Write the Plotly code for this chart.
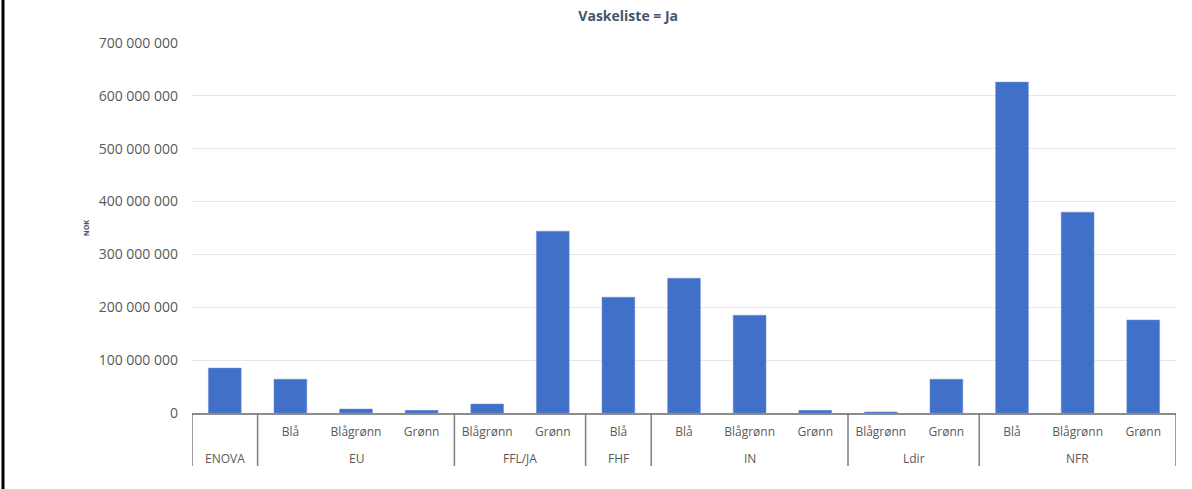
import plotly.graph_objects as go

groups = ["ENOVA", "EU", "EU", "EU", "FFL/JA", "FFL/JA", "FHF", "IN", "IN", "IN",
          "Ldir", "Ldir", "NFR", "NFR", "NFR"]
subcats = ["", "Blå", "Blågrønn", "Grønn", "Blågrønn", "Grønn", "Blå", "Blå", "Blågrønn", "Grønn",
           "Blågrønn", "Grønn", "Blå", "Blågrønn", "Grønn"]
values = [85e6, 64e6, 7.5e6, 5e6, 17e6, 344e6, 219e6, 255e6, 185e6, 5e6,
          2e6, 64e6, 626e6, 380e6, 176e6]
tickvals_y = [0, 100e6, 200e6, 300e6, 400e6, 500e6, 600e6, 700e6]

font_fam = "Open Sans, Noto Sans, sans-serif"
idx = list(range(len(values)))

W, H = 1192, 489
ML, MR, MT, MB = 192, 16, 43, 76
plot_w = W - ML - MR
plot_h = float(H - MT - MB)

# group spans derived from the data
spans = []
for i, g in enumerate(groups):
    if spans and spans[-1][0] == g:
        spans[-1][2] = i
    else:
        spans.append([g, i, i])

annotations = []
shapes = []
for g, a, b in spans:
    annotations.append(dict(text=g, x=(a + b) / 2, xref="x", y=-45 / plot_h, yref="paper",
                            showarrow=False, yanchor="middle", xanchor="center",
                            font=dict(family=font_fam, size=12, color="#595959")))
bounds = [s[1] - 0.5 for s in spans] + [spans[-1][2] + 0.5]
for bx in bounds:
    shapes.append(dict(type="line", xref="x", yref="paper", x0=bx, x1=bx, y0=0, y1=-53 / plot_h,
                       line=dict(color="#7F7F7F", width=1.5)))

# left frame line of the picture
shapes.append(dict(type="line", xref="paper", yref="paper",
                   x0=(3 - ML) / plot_w, x1=(3 - ML) / plot_w, y0=-MB / plot_h, y1=1 + MT / plot_h,
                   line=dict(color="black", width=3)))

fig = go.Figure(go.Bar(
    x=idx,
    y=values,
    marker=dict(color="#4170C8", line=dict(color="#6F8FD8", width=0.5)),
))

fig.update_layout(
    width=W, height=H,
    margin=dict(l=ML, r=MR, t=MT, b=MB),
    paper_bgcolor="white", plot_bgcolor="white",
    separators=", ",
    bargap=0.5,
    showlegend=False,
    title=dict(text="<b>Vaskeliste = Ja</b>", x=0.527, xref="container", xanchor="center",
               y=1 - 16 / H, yref="container", yanchor="middle",
               font=dict(family=font_fam, size=14, color="#44546A")),
    font=dict(family=font_fam, size=13, color="#595959"),
    xaxis=dict(
        range=[-0.5, len(values) - 0.5],
        tickvals=idx, ticktext=subcats,
        showline=True, linecolor="#8C8C8C", linewidth=1.5,
        ticks="", showgrid=False, zeroline=False, ticklabelstandoff=7,
        tickfont=dict(family=font_fam, size=12, color="#595959"),
    ),
    yaxis=dict(
        range=[0, 700e6], tickvals=tickvals_y, tickformat=",d",
        showgrid=True, gridcolor="#E6E6E6", gridwidth=1,
        zeroline=False, showline=False, ticks="", ticklabelstandoff=13,
        tickfont=dict(family=font_fam, size=14, color="#595959"),
        title=dict(text="<b>NOK</b>", font=dict(size=7, color="#44546A"), standoff=8),
    ),
    annotations=annotations,
    shapes=shapes,
)

fig.write_html("out.html", config={"displayModeBar": False},
               post_script="document.body.style.margin='0px';")
